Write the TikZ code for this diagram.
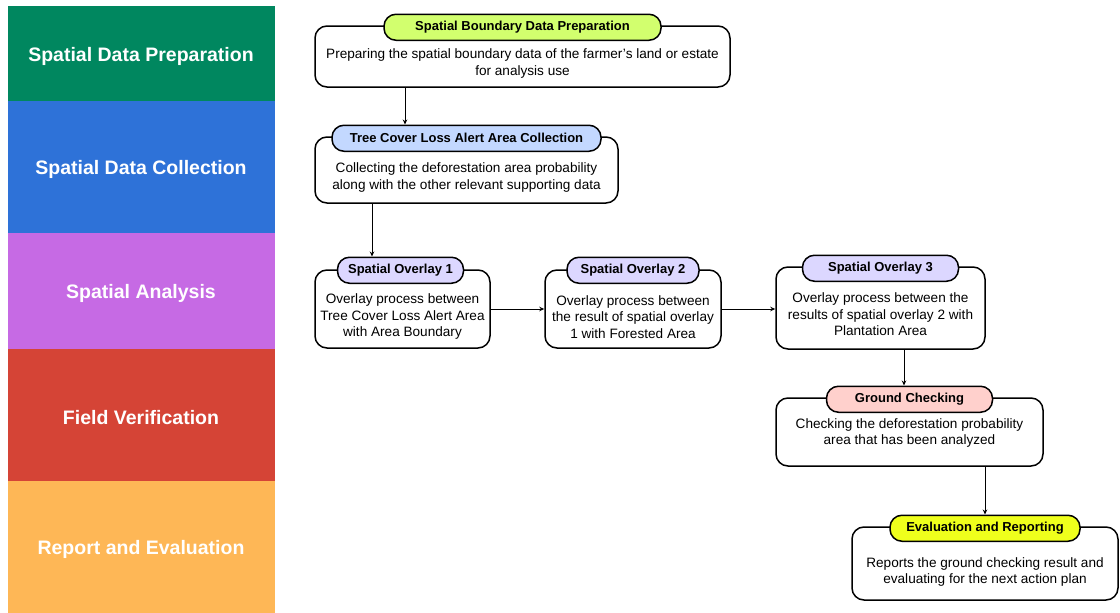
\documentclass[tikz,border=0pt]{standalone}
\usepackage{fontspec}
\setmainfont{Liberation Sans}
\usetikzlibrary{arrows.meta, positioning, calc}

\definecolor{prepgreen}{HTML}{00875F}
\definecolor{collblue}{HTML}{2E72D8}
\definecolor{anapurple}{HTML}{C66AE4}
\definecolor{fieldred}{HTML}{D54436}
\definecolor{repyellow}{HTML}{FEB756}
\definecolor{pilllime}{HTML}{D2FF6E}
\definecolor{pillblue}{HTML}{C3D8FF}
\definecolor{pilllav}{HTML}{DCD7FF}
\definecolor{pillpink}{HTML}{FFD0CC}
\definecolor{pillyellow}{HTML}{EFFF1C}

\begin{document}
\begin{tikzpicture}[x=1pt, y=-1pt,
    stagebox/.style={draw=black, line width=1.5pt, rounded corners=12pt, fill=white},
    pill/.style={draw=black, line width=1.5pt, rounded corners=12pt, minimum height=26pt,
        inner sep=0pt, font=\fontsize{13}{15}\selectfont\bfseries},
    bodytext/.style={align=center, inner sep=0pt, font=\fontsize{13.6}{16.5}\selectfont},
    bandtext/.style={text=white, font=\fontsize{19.5}{22}\selectfont\bfseries},
    arr/.style={-{Stealth[length=5pt, width=4.5pt]}, line width=0.8pt}]
\useasboundingbox (0,0) rectangle (1120,613);

% Left column: stages
\foreach \ya/\yb/\col/\name/\lab in {6/101/prepgreen/sprep/Spatial Data Preparation,
    101/233/collblue/scoll/Spatial Data Collection,
    233/349/anapurple/sana/Spatial Analysis,
    349/481/fieldred/sfield/Field Verification,
    481/613/repyellow/srep/Report and Evaluation} {
    \fill[\col] (8,\ya) rectangle (275,\yb);
    \node[bandtext] (\name) at (141,{(\ya+\yb)/2+2.5}) {\lab};
}

% Step 1: boundary data
\node[stagebox, minimum width=415pt, minimum height=61pt] (b1) at (522.5,56.5) {};
\node[bodytext] (b1t) at ([yshift=-7pt]b1.center) {Preparing the spatial boundary data of the farmer's land or estate\\for analysis use};
\node[pill, fill=pilllime, minimum width=277pt] (p1) at ([yshift=-2pt]b1.north) {Spatial Boundary Data Preparation};

% Step 2: alert collection
\node[stagebox, minimum width=303pt, minimum height=66pt] (b2) at (466.5,170) {};
\node[bodytext] (b2t) at ([yshift=-7.5pt]b2.center) {Collecting the deforestation area probability\\along with the other relevant supporting data};
\node[pill, fill=pillblue, minimum width=269pt] (p2) at ([yshift=-2pt]b2.north) {Tree Cover Loss Alert Area Collection};

% Step 3: overlays
\node[stagebox, minimum width=175pt, minimum height=78pt] (o1) at (402.5,309) {};
\node[bodytext] (o1t) at ([yshift=-7.5pt]o1.center) {Overlay process between\\Tree Cover Loss Alert Area\\with Area Boundary};
\node[pill, fill=pilllav, minimum width=126pt] (q1) at ([xshift=-2pt,yshift=-1pt]o1.north) {Spatial Overlay 1};

\node[stagebox, minimum width=176pt, minimum height=78pt] (o2) at (633,309) {};
\node[bodytext] (o2t) at ([yshift=-8pt]o2.center) {Overlay process between\\the result of spatial overlay\\1 with Forested Area};
\node[pill, fill=pilllav, minimum width=132pt] (q2) at ([yshift=-1pt]o2.north) {Spatial Overlay 2};

\node[stagebox, minimum width=209pt, minimum height=82pt] (o3) at (880.5,308) {};
\node[bodytext] (o3t) at ([yshift=-6.5pt]o3.center) {Overlay process between the\\results of spatial overlay 2 with\\Plantation Area};
\node[pill, fill=pilllav, minimum width=156pt] (q3) at ([yshift=-2pt]o3.north) {Spatial Overlay 3};

% Step 4: ground checking
\node[stagebox, minimum width=267pt, minimum height=68pt] (g) at (909.5,432) {};
\node[bodytext] (gt) at ([yshift=-1pt]g.center) {Checking the deforestation probability\\area that has been analyzed};
\node[pill, fill=pillpink, minimum width=166pt] (pg) at ([yshift=-2pt]g.north) {Ground Checking};

% Step 5: reporting
\node[stagebox, minimum width=266pt, minimum height=73pt] (e) at (985,563.5) {};
\node[bodytext] (et) at ([yshift=-8.5pt]e.center) {Reports the ground checking result and\\evaluating for the next action plan};
\node[pill, fill=pillyellow, minimum width=190pt] (pe) at ([yshift=-2pt]e.north) {Evaluation and Reporting};

% Connectors
\draw[arr] ([xshift=-117.5pt]b1.south) -- ([xshift=-117.5pt]b1.south |- p2.north);
\draw[arr] ([xshift=-94.5pt]b2.south) -- ([xshift=-94.5pt]b2.south |- q1.north);
\draw[arr] (o1.east) -- (o2.west);
\draw[arr] (o2.east) -- (o2.east -| o3.west);
\draw[arr] ([xshift=23.5pt]o3.south) -- ([xshift=23.5pt]o3.south |- pg.north);
\draw[arr] (g.south -| pe.north) -- (pe.north);

\end{tikzpicture}
\end{document}
